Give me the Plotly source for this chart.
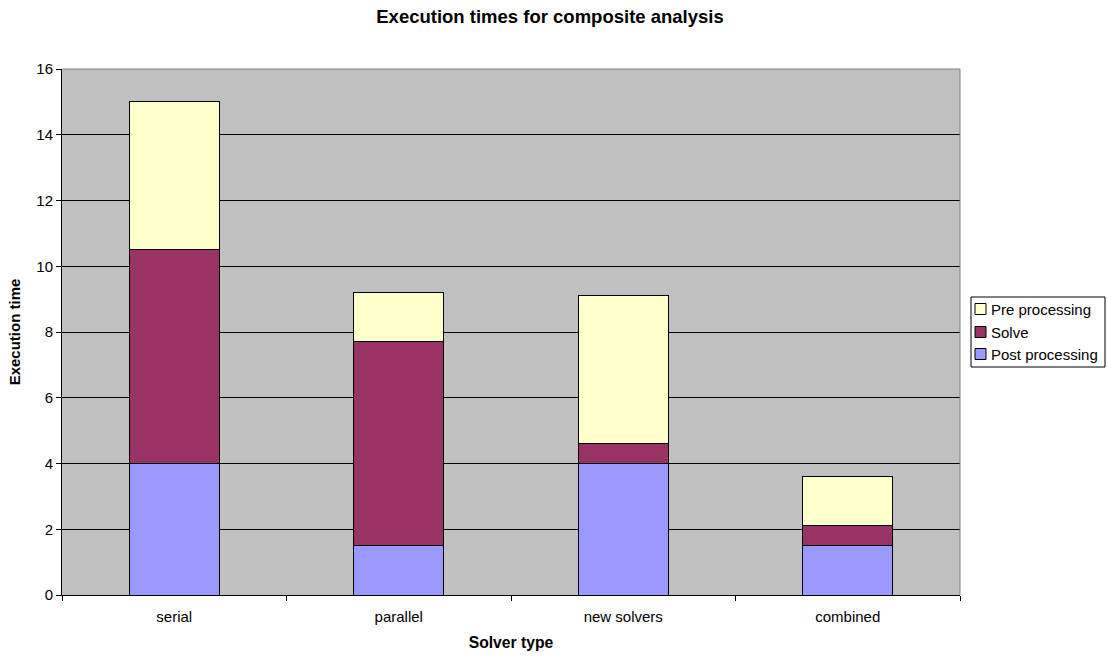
import plotly.graph_objects as go

categories = ["serial", "parallel", "new solvers", "combined"]
post_processing = [4.0, 1.5, 4.0, 1.5]
solve = [6.5, 6.2, 0.6, 0.6]
pre_processing = [4.5, 1.5, 4.5, 1.5]
y_ticks = [0, 2, 4, 6, 8, 10, 12, 14, 16]

series = [
    ("Post processing", post_processing, "#9999FF"),
    ("Solve", solve, "#993366"),
    ("Pre processing", pre_processing, "#FFFFCC"),
]

FONT = "Liberation Sans, Arial, sans-serif"
W, H = 1107, 657
L, R, T, B = 62, 147, 69, 62
PW, PH = W - L - R, H - T - B


def px(x):
    return (x - L) / PW


def py(y):
    return (H - B - y) / PH


fig = go.Figure()
for name, vals, color in series:
    fig.add_trace(go.Bar(
        x=categories, y=vals, name=name,
        marker=dict(color=color, line=dict(color="black", width=1)),
        width=0.4, showlegend=False,
    ))

fig.update_layout(
    barmode="stack",
    width=W, height=H,
    margin=dict(l=L, r=R, t=T, b=B, autoexpand=False),
    paper_bgcolor="white",
    plot_bgcolor="#C0C0C0",
    font=dict(family=FONT, size=15, color="black"),
    title=dict(text="<b>Execution times for composite analysis</b>",
               x=550 / W, xanchor="center", y=1 - 17 / H, yanchor="middle",
               font=dict(size=18.5)),
    showlegend=False,
)
fig.update_xaxes(
    title=dict(text="<b>Solver type</b>", font=dict(size=15.7), standoff=13),
    showline=True, linecolor="black", linewidth=1,
    ticks="outside", tickson="boundaries", ticklen=5, tickcolor="black",
    ticklabelstandoff=8,
    showgrid=False,
)
fig.update_yaxes(
    title=dict(text="<b>Execution time</b>", font=dict(size=15), standoff=12),
    range=[0, 16], tickvals=y_ticks,
    showline=True, linecolor="black", linewidth=1,
    ticks="outside", ticklen=5, tickcolor="black",
    showgrid=True, gridcolor="black", gridwidth=1,
    zeroline=False,
)
# grey top and right borders of the plot area
fig.add_shape(type="line", xref="paper", yref="paper", x0=0, x1=1, y0=1, y1=1,
              line=dict(color="#808080", width=1))
fig.add_shape(type="line", xref="paper", yref="paper", x0=1, x1=1, y0=0, y1=1,
              line=dict(color="#808080", width=1))

# legend box (custom, drawn in paper coordinates)
fig.add_shape(type="rect", xref="paper", yref="paper",
              x0=px(971), x1=px(1105), y0=py(367), y1=py(297),
              line=dict(color="black", width=1), fillcolor="white", layer="above")
legend_rows = [309, 332, 354]
for (name, vals, color), yc in zip(reversed(series), legend_rows):
    fig.add_shape(type="rect", xref="paper", yref="paper",
                  x0=px(975), x1=px(986), y0=py(yc + 5.5), y1=py(yc - 5.5),
                  line=dict(color="black", width=1), fillcolor=color, layer="above")
    fig.add_annotation(text=name, xref="paper", yref="paper",
                       x=px(989), y=py(yc), xanchor="left", yanchor="middle",
                       showarrow=False, font=dict(size=15))

fig.write_html("out.html")
